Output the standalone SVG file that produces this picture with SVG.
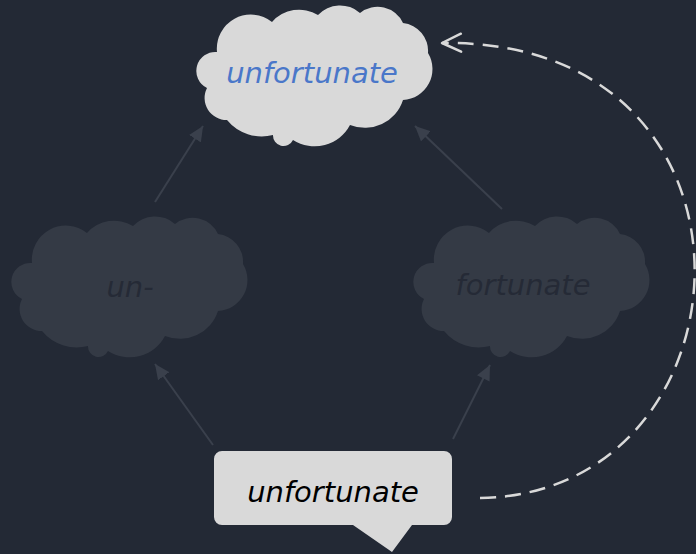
<svg xmlns="http://www.w3.org/2000/svg" width="696" height="554" viewBox="0 0 696 554">
  <style>
    .lbl { font-family: "DejaVu Sans", "Liberation Sans", sans-serif; font-style: italic; font-size: 29px; text-anchor: middle; }
    .conn { stroke: #3a404c; stroke-width: 2; fill: none; }
    .dash { stroke: #d9d9d9; stroke-width: 2.5; fill: none; stroke-dasharray: 16 9; }
  </style>
  <defs>
    <path id="cloud" d="M 22 47 A 34 34 0 0 1 77 17 A 36 36 0 0 1 123 10 A 30 30 0 0 1 165 8 A 28 28 0 0 1 208 18 A 28 28 0 0 1 233 48 A 31 31 0 0 1 208 95 A 40 40 0 0 1 155 120 A 40 40 0 0 1 98 135 A 10.5 10.5 0 0 1 78 130 A 45 45 0 0 1 32 115 A 22 22 0 0 1 12 83 A 19 19 0 0 1 22 47 Z"/>
    <marker id="solidHead" markerWidth="16" markerHeight="14" refX="15" refY="7" orient="auto" markerUnits="userSpaceOnUse">
      <path d="M 0 0 L 15 7 L 0 14 Z" fill="#3a404c"/>
    </marker>
    <marker id="openHead" markerWidth="24" markerHeight="24" refX="21" refY="12" orient="auto" markerUnits="userSpaceOnUse">
      <path d="M 2 3 L 21 12 L 2 21" fill="none" stroke="#d9d9d9" stroke-width="2.5" stroke-linecap="round" stroke-linejoin="round"/>
    </marker>
  </defs>
  <rect width="696" height="554" fill="#232935"/>

  <g id="connectors">
    <line class="conn" x1="155" y1="202" x2="203" y2="126" marker-end="url(#solidHead)"/>
    <line class="conn" x1="502" y1="209" x2="415" y2="126" marker-end="url(#solidHead)"/>
    <line class="conn" x1="213" y1="445" x2="155" y2="364" marker-end="url(#solidHead)"/>
    <line class="conn" x1="453" y1="439" x2="490" y2="365" marker-end="url(#solidHead)"/>
    <path class="dash" d="M 480 498 C 760 494, 785 38, 442 43" marker-end="url(#openHead)"/>
  </g>

  <g id="node-top">
    <use href="#cloud" transform="translate(195,5)" fill="#d9d9d9"/>
    <text class="lbl" x="312" y="83" fill="#4a77c9">unfortunate</text>
  </g>

  <g id="node-un">
    <use href="#cloud" transform="translate(10,216)" fill="#343a45"/>
    <text class="lbl" x="130" y="297" fill="#252a36">un-</text>
  </g>

  <g id="node-fortunate">
    <use href="#cloud" transform="translate(412,216)" fill="#343a45"/>
    <text class="lbl" x="523" y="295" fill="#252a36">fortunate</text>
  </g>

  <g id="node-word">
    <path d="M 222 451 H 444 A 8 8 0 0 1 452 459 V 517 A 8 8 0 0 1 444 525 H 412 L 392 552 L 353 525 H 222 A 8 8 0 0 1 214 517 V 459 A 8 8 0 0 1 222 451 Z" fill="#d9d9d9"/>
    <text class="lbl" x="333" y="502" fill="#000000">unfortunate</text>
  </g>
</svg>
